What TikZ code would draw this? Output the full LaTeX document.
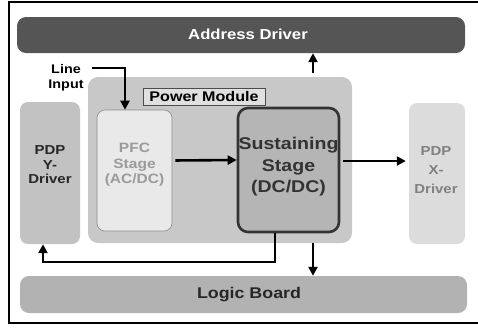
\documentclass[tikz,border=0pt]{standalone}
\usepackage{fontspec}
\setmainfont{Liberation Sans}[FakeStretch=1.15]
\usetikzlibrary{arrows.meta}
\definecolor{addrgray}{HTML}{555555}
\definecolor{logicgray}{HTML}{B2B2B2}
\definecolor{modgray}{HTML}{C8C8C8}
\definecolor{pfcfill}{HTML}{E9E9E9}
\definecolor{susfill}{HTML}{B5B5B5}
\definecolor{ydrv}{HTML}{C2C2C2}
\definecolor{xdrv}{HTML}{DCDCDC}
\definecolor{softtext}{HTML}{9A9A9A}
\tikzset{
  blk/.style={rectangle, rounded corners=9pt, inner sep=0pt, draw=none},
  lbl/.style={inner sep=0pt, align=center, font=\bfseries},
  arr/.style={line width=2.6pt, -{Triangle[length=9pt,width=9pt]}},
}
\newcommand{\fs}[2]{\fontsize{#1}{#2}\selectfont\bfseries}
\begin{document}
\begin{tikzpicture}[x=1pt,y=-1pt]
\useasboundingbox (0,0) rectangle (478,327);
% outer frame (open on the right)
\draw[line width=1.4pt] (478,2) -- (9,2) -- (9,323) -- (478,323);

% boards
\node[blk, fill=addrgray, minimum width=448pt, minimum height=36pt] (addr) at (241,35) {};
\node[lbl, text=white, font=\fs{14.5}{17}] (addrT) at (248,34) {Address Driver};
\node[blk, fill=logicgray, minimum width=447pt, minimum height=37pt] (logic) at (243.5,294.5) {};
\node[lbl, text=black!85, font=\fs{15.5}{18}] (logicT) at (249,295) {Logic Board};

% power module
\node[blk, rounded corners=10pt, fill=modgray, minimum width=264pt, minimum height=166pt] (pm) at (220,160) {};
\node[rectangle, draw=black!70, line width=0.6pt, fill=black!12, minimum width=122pt, minimum height=17pt, inner sep=0pt, font=\fs{14}{16}] (pml) at (204,96.5) {Power Module};

% stages
\node[blk, rounded corners=8pt, fill=pfcfill, draw=black!45, line width=0.6pt, minimum width=75pt, minimum height=121pt] (pfc) at (134.5,170.5) {};
\node[lbl, text=softtext, font=\fs{13.5}{15.5}] (pfcT) at (134.5,165) {PFC\\Stage\\(AC/DC)};
\node[blk, rounded corners=10pt, fill=susfill, draw=black!80, line width=2.6pt, minimum width=101pt, minimum height=124pt] (sus) at (288.5,170) {};
\node[lbl, text=black!80, font=\fs{17}{21.5}] (susT) at (288.5,167) {Sustaining\\Stage\\(DC/DC)};

% drivers
\node[blk, rounded corners=8pt, fill=ydrv, minimum width=60pt, minimum height=142pt] (pdpy) at (50,173) {};
\node[lbl, text=black!85, font=\fs{13}{14.5}] (pdpyT) at (50,165) {PDP\\Y-\\Driver};
\node[blk, rounded corners=8pt, fill=xdrv, minimum width=56pt, minimum height=141pt] (pdpx) at (437,173.5) {};
\node[lbl, text=black!50, font=\fs{13}{19}] (pdpxT) at (436,170) {PDP\\X-\\Driver};

% line input
\node[lbl, font=\fs{12.5}{15}] (lineT) at (66,77.5) {Line\\Input};

% connector helpers
\coordinate (in0) at (92,68);
\coordinate (in1) at (125,68);
\coordinate (upx) at (313,0);
\coordinate (fb) at (275,262);
\coordinate (fy) at (43,262);

% connectors
\draw[arr] (in0) -- (in1) -- (in1 |- pfc.north);
\draw[arr, shorten <=3pt] ([yshift=10pt]pfc.east) -- ([yshift=10pt]sus.west);
\draw[arr, shorten <=3pt, shorten >=3pt] ([yshift=9pt]sus.east) coordinate (xo) -- (xo -| pdpx.west);
\draw[arr, shorten <=4pt] (pm.north -| upx) -- (addr.south -| upx);
\draw[arr] (pm.south -| upx) -- (logic.north -| upx);
\draw[arr, line join=miter] (sus.south -| fb) -- (fb) -- (fy) -- (fy |- pdpy.south);
\end{tikzpicture}
\end{document}
